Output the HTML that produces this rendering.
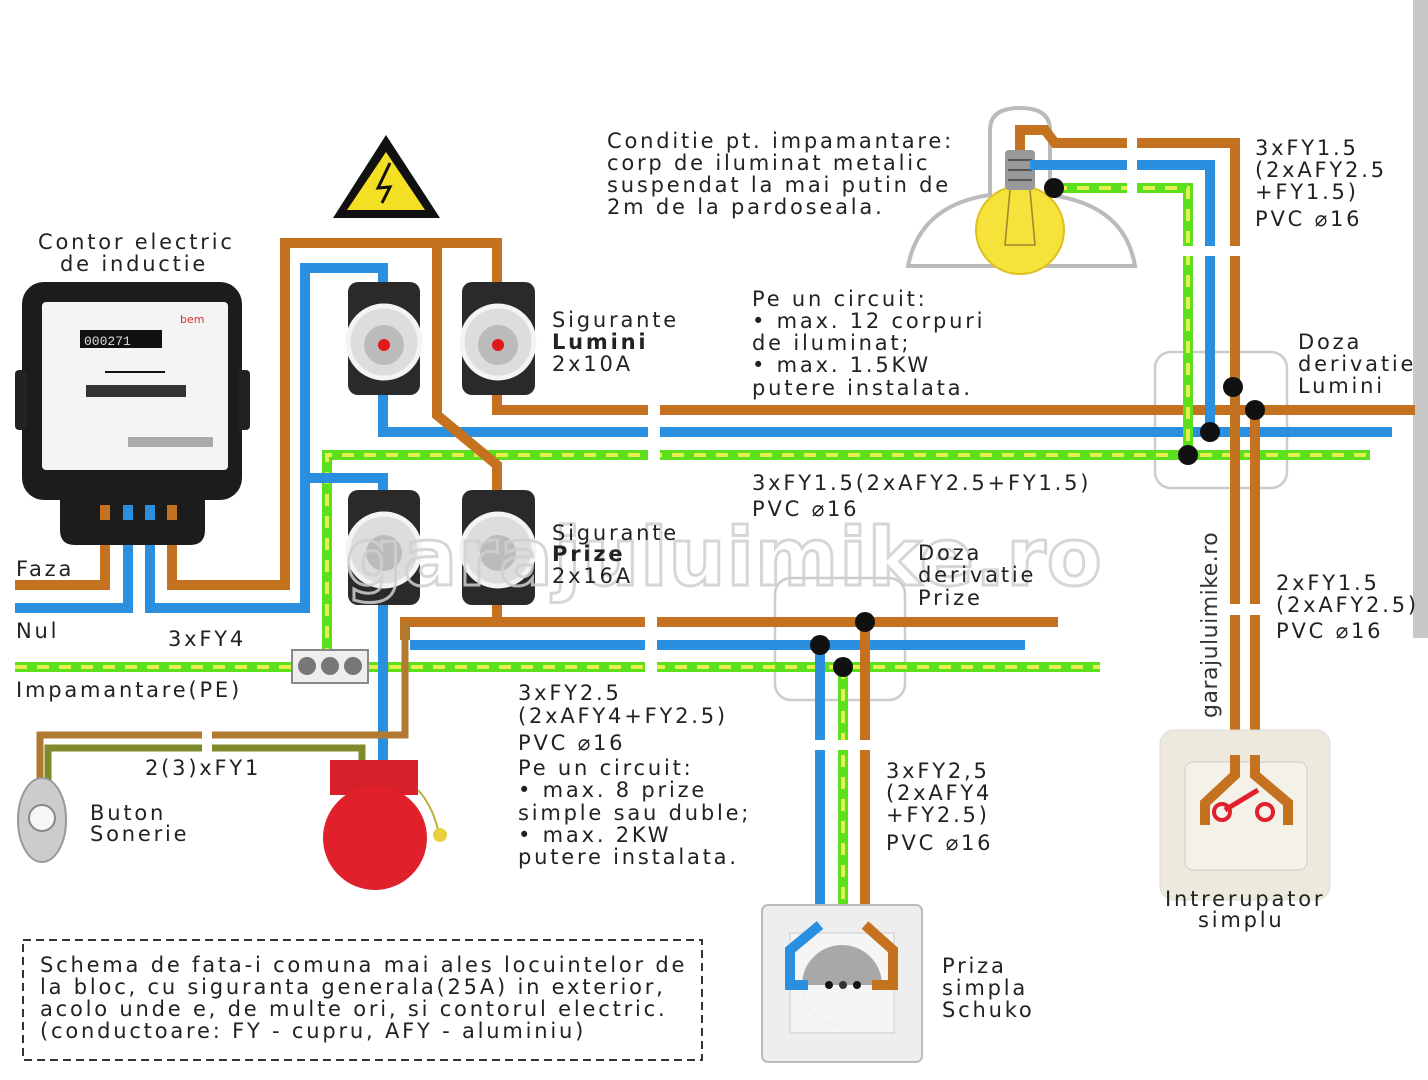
<!DOCTYPE html>
<html><head><meta charset="utf-8"><style>
html,body{margin:0;padding:0;background:#fff}
svg{display:block}
text{font-family:"DejaVu Sans","Liberation Sans",sans-serif;font-size:21px;fill:#222;letter-spacing:2.8px}
.o{stroke:#c4721f;stroke-width:10;fill:none}
.b{stroke:#2b8fe0;stroke-width:10;fill:none}
.g{stroke:#5ce01e;stroke-width:10;fill:none}
.y{stroke:#e6f04a;stroke-width:4;fill:none;stroke-dasharray:12 10}
.gap{fill:#fff}
.dot{fill:#111}
</style></head><body>
<svg width="1428" height="1080" viewBox="0 0 1428 1080" xmlns="http://www.w3.org/2000/svg">
<rect x="1413" y="0" width="15" height="638" fill="#c8c8c8"/>

<!-- lamp shade -->
<path d="M908 266 Q920 205 990 195 L990 130 Q990 108 1020 108 Q1050 108 1050 130 L1050 195 Q1125 205 1135 266 Z" fill="#fff" stroke="#bbb" stroke-width="4"/>
<circle cx="1020" cy="230" r="44" fill="#f5e23a" stroke="#e0c020" stroke-width="2"/>
<rect x="1005" y="150" width="30" height="40" rx="4" fill="#999"/>
<path d="M1008 160h24M1008 170h24M1008 180h24" stroke="#555" stroke-width="2"/>
<path d="M1010 190 L1005 245 L1035 245 L1030 190" stroke="#998830" stroke-width="1.5" fill="none"/>

<!-- junction boxes -->
<rect x="1155" y="352" width="132" height="136" rx="16" fill="none" stroke="#ccc" stroke-width="2.5"/>
<rect x="775" y="578" width="130" height="122" rx="16" fill="none" stroke="#ccc" stroke-width="2.5"/>

<!-- LIGHT circuit main horizontals -->
<path class="o" d="M497 395 V410 H1415"/>
<path class="b" d="M383 395 V432 H1392"/>
<path class="g" d="M327 660 V455 H1370"/>
<path class="y" d="M327 660 V455 H1370"/>
<!-- lamp wires -->
<path class="o" d="M1020 150 V130 H1045 L1055 143 H1235 V760"/>
<path class="o" d="M1255 410 V760"/>
<path class="b" d="M1030 165 H1210 V432"/>
<path class="g" d="M1055 188 H1188 V455"/>
<path class="y" d="M1055 188 H1188 V455"/>
<!-- gaps -->
<rect class="gap" x="1127" y="125" width="10" height="75"/>
<rect class="gap" x="1180" y="246" width="85" height="10"/>
<rect class="gap" x="1225" y="604" width="40" height="11"/>
<rect class="gap" x="648" y="400" width="12" height="65"/>
<circle class="dot" cx="1054" cy="188" r="10"/>
<circle class="dot" cx="1233" cy="387" r="10"/>
<circle class="dot" cx="1255" cy="410" r="10"/>
<circle class="dot" cx="1210" cy="432" r="10"/>
<circle class="dot" cx="1188" cy="455" r="10"/>

<!-- feed from meter -->
<path class="o" d="M172 510 V585 H285 V243 H497 V285"/>
<path class="o" d="M437 243 V415 L497 465 V495"/>
<path class="b" d="M150 510 V608 H305 V268 H383 V285"/>
<path class="b" d="M305 478 H383 V495"/>
<path class="o" d="M15 585 H105 V510"/>
<path class="b" d="M15 608 H128 V510"/>

<!-- socket circuit -->
<path class="o" d="M497 600 V622 H1058"/>
<path class="o" d="M405 640 V622 H500"/>
<path class="b" d="M410 645 H1025"/>
<path class="g" d="M15 667 H1100"/>
<path class="y" d="M15 667 H1100"/>
<path class="b" d="M383 600 V760"/>
<path class="o" d="M865 622 V925 L893 950 V985 H872"/>
<path class="b" d="M820 645 V925 L790 950 V985 H808"/>
<path class="g" d="M843 667 V950"/>
<path class="y" d="M843 667 V950"/>
<rect class="gap" x="645" y="612" width="12" height="65"/>
<rect class="gap" x="810" y="740" width="60" height="10"/>
<circle class="dot" cx="865" cy="622" r="10"/>
<circle class="dot" cx="820" cy="645" r="10"/>
<circle class="dot" cx="843" cy="667" r="10"/>

<!-- bell wires -->
<path d="M405 622 V735 H40 V785" stroke="#b07a30" stroke-width="7" fill="none"/>
<path d="M48 785 V748 H362 V762" stroke="#7f8a2a" stroke-width="7" fill="none"/>
<rect class="gap" x="202" y="728" width="10" height="26"/>

<!-- PE bar -->
<rect x="292" y="650" width="76" height="33" fill="#eee" stroke="#888" stroke-width="2"/>
<circle cx="307" cy="666" r="9" fill="#777"/><circle cx="330" cy="666" r="9" fill="#777"/><circle cx="353" cy="666" r="9" fill="#777"/>

<!-- meter -->
<rect x="22" y="282" width="220" height="218" rx="22" fill="#1c1c1c"/>
<rect x="15" y="370" width="12" height="60" rx="4" fill="#222"/><rect x="238" y="370" width="12" height="60" rx="4" fill="#222"/>
<path d="M60 498 H205 V530 Q205 545 190 545 H75 Q60 545 60 530 Z" fill="#1c1c1c"/>
<rect x="42" y="302" width="186" height="168" rx="4" fill="#f4f4f4"/>
<rect x="80" y="330" width="82" height="18" fill="#111"/>
<text x="84" y="345" style="font-size:13px;fill:#ddd;font-family:'Liberation Mono',monospace;letter-spacing:0">000271</text>
<text x="180" y="323" style="font-size:11px;fill:#c33;letter-spacing:0">bem</text>
<rect x="86" y="385" width="100" height="12" fill="#333"/>
<path d="M105 372 H165" stroke="#111" stroke-width="2"/>
<rect x="128" y="437" width="85" height="10" fill="#aaa"/>
<path class="o" d="M105 505 V520" /><path class="b" d="M128 505 V520"/><path class="b" d="M150 505 V520"/><path class="o" d="M172 505 V520"/>

<!-- fuses -->
<g>
<rect x="348" y="282" width="72" height="113" rx="10" fill="#2a2a2a"/>
<circle cx="384" cy="342" r="36" fill="#ddd" stroke="#f4f4f4" stroke-width="5"/><circle cx="384" cy="345" r="20" fill="#bbb"/><circle cx="384" cy="345" r="6" fill="#e01818"/>
<rect x="462" y="282" width="73" height="113" rx="10" fill="#2a2a2a"/>
<circle cx="498" cy="342" r="36" fill="#ddd" stroke="#f4f4f4" stroke-width="5"/><circle cx="498" cy="345" r="20" fill="#bbb"/><circle cx="498" cy="345" r="6" fill="#e01818"/>
<rect x="348" y="490" width="72" height="115" rx="10" fill="#2a2a2a"/>
<circle cx="384" cy="550" r="36" fill="#ddd" stroke="#f4f4f4" stroke-width="5"/><circle cx="384" cy="553" r="18" fill="#bbb"/>
<rect x="462" y="490" width="73" height="115" rx="10" fill="#2a2a2a"/>
<circle cx="498" cy="550" r="36" fill="#ddd" stroke="#f4f4f4" stroke-width="5"/><circle cx="498" cy="553" r="18" fill="#bbb"/>
</g>

<!-- watermark -->
<text x="345" y="585" style="font-size:80px;fill:none;stroke:#d0d0d0;stroke-width:3;font-weight:bold;letter-spacing:1px;opacity:0.85">garajuluimike.ro</text>

<!-- warning -->
<polygon points="386,135 440,218 333,218" fill="#111"/>
<polygon points="386,152 425,210 347,210" fill="#f3e024"/>
<path d="M390 163 L378 188 L390 187 L382 203" stroke="#111" stroke-width="3" fill="none"/>

<!-- button -->
<ellipse cx="42" cy="820" rx="24" ry="42" fill="#ccc" stroke="#999" stroke-width="2"/>
<circle cx="42" cy="818" r="13" fill="#f6f6f6" stroke="#888" stroke-width="2"/>
<!-- bell -->
<rect x="330" y="760" width="88" height="35" fill="#d8202a"/>
<circle cx="375" cy="838" r="52" fill="#e0212b"/>
<path d="M418 790 Q432 805 438 830" stroke="#b8b030" stroke-width="2" fill="none"/>
<circle cx="440" cy="835" r="7" fill="#e8d040"/>

<!-- switch -->
<rect x="1160" y="730" width="170" height="170" rx="14" fill="#ede9dc" stroke="#ddd"/>
<rect x="1185" y="762" width="122" height="108" rx="8" fill="#f3f1e8" stroke="#ccc"/>
<path class="o" d="M1235 755 V775 L1205 803 V825" stroke-width="8"/>
<path class="o" d="M1255 755 V775 L1288 803 V825" stroke-width="8"/>
<circle cx="1222" cy="812" r="8" fill="none" stroke="#e0202a" stroke-width="4"/>
<circle cx="1265" cy="812" r="8" fill="none" stroke="#e0202a" stroke-width="4"/>
<path d="M1225 810 L1258 790" stroke="#e0202a" stroke-width="5"/>

<!-- socket -->
<rect x="762" y="905" width="160" height="157" rx="6" fill="#eee" stroke="#bbb" stroke-width="2"/>
<rect x="790" y="933" width="104" height="100" fill="#f5f5f5" stroke="#ccc"/>
<circle cx="842" cy="985" r="40" fill="#a8a8a8"/>
<path d="M802 985 A40 40 0 0 0 882 985 Z" fill="#f5f5f5"/>
<circle cx="829" cy="985" r="4" fill="#111"/><circle cx="843" cy="985" r="4" fill="#333"/><circle cx="857" cy="985" r="4" fill="#111"/>
<path class="b" d="M820 925 L790 950 V985 H808" stroke-width="9"/>
<path class="o" d="M865 925 L893 950 V985 H872" stroke-width="9"/>

<!-- dashed box -->
<rect x="23" y="940" width="679" height="120" fill="none" stroke="#333" stroke-width="2" stroke-dasharray="8 5"/>

<!-- texts -->
<text x="38" y="249">Contor electric</text>
<text x="60" y="271">de inductie</text>
<text x="16" y="576">Faza</text>
<text x="16" y="638">Nul</text>
<text x="168" y="646">3xFY4</text>
<text x="16" y="697">Impamantare(PE)</text>
<text x="145" y="775">2(3)xFY1</text>
<text x="90" y="820">Buton</text>
<text x="90" y="841">Sonerie</text>
<text x="552" y="327">Sigurante</text>
<text x="552" y="349" style="font-weight:bold">Lumini</text>
<text x="552" y="371">2x10A</text>
<text x="552" y="540">Sigurante</text>
<text x="552" y="561" style="font-weight:bold">Prize</text>
<text x="552" y="583">2x16A</text>
<text x="607" y="148">Conditie pt. impamantare:</text>
<text x="607" y="170">corp de iluminat metalic</text>
<text x="607" y="192">suspendat la mai putin de</text>
<text x="607" y="214">2m de la pardoseala.</text>
<text x="752" y="306">Pe un circuit:</text>
<text x="752" y="328">• max. 12 corpuri</text>
<text x="752" y="350">de iluminat;</text>
<text x="752" y="372">• max. 1.5KW</text>
<text x="752" y="395">putere instalata.</text>
<text x="752" y="490">3xFY1.5(2xAFY2.5+FY1.5)</text>
<text x="752" y="516">PVC ⌀16</text>
<text x="1255" y="155">3xFY1.5</text>
<text x="1255" y="177">(2xAFY2.5</text>
<text x="1255" y="199">+FY1.5)</text>
<text x="1255" y="226">PVC ⌀16</text>
<text x="1298" y="349">Doza</text>
<text x="1298" y="371">derivatie</text>
<text x="1298" y="393">Lumini</text>
<text x="918" y="560">Doza</text>
<text x="918" y="582">derivatie</text>
<text x="918" y="605">Prize</text>
<text x="1276" y="590">2xFY1.5</text>
<text x="1276" y="612">(2xAFY2.5)</text>
<text x="1276" y="638">PVC ⌀16</text>
<text transform="translate(1217,718) rotate(-90)" style="font-size:22px;fill:#333;letter-spacing:0.5px">garajuluimike.ro</text>
<text x="518" y="700">3xFY2.5</text>
<text x="518" y="723">(2xAFY4+FY2.5)</text>
<text x="518" y="750">PVC ⌀16</text>
<text x="518" y="775">Pe un circuit:</text>
<text x="518" y="797">• max. 8 prize</text>
<text x="518" y="820">simple sau duble;</text>
<text x="518" y="842">• max. 2KW</text>
<text x="518" y="864">putere instalata.</text>
<text x="886" y="778">3xFY2,5</text>
<text x="886" y="800">(2xAFY4</text>
<text x="886" y="822">+FY2.5)</text>
<text x="886" y="850">PVC ⌀16</text>
<text x="942" y="973">Priza</text>
<text x="942" y="995">simpla</text>
<text x="942" y="1017">Schuko</text>
<text x="1165" y="906">Intrerupator</text>
<text x="1198" y="927">simplu</text>
<text x="40" y="972">Schema de fata-i comuna mai ales locuintelor de</text>
<text x="40" y="994">la bloc, cu siguranta generala(25A) in exterior,</text>
<text x="40" y="1016">acolo unde e, de multe ori, si contorul electric.</text>
<text x="40" y="1038">(conductoare: FY - cupru, AFY - aluminiu)</text>
</svg>
</body></html>
